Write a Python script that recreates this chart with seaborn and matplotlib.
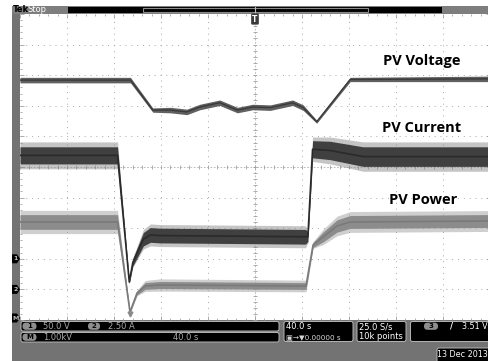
import numpy as np
import matplotlib
matplotlib.use("Agg")
import matplotlib.pyplot as plt
from matplotlib.patches import Rectangle, FancyBboxPatch, Polygon
import seaborn as sns

# ---------------- data ----------------
# time in seconds (40 s/div, 400 s record)
volt_t = [0, 94, 113, 128, 142, 153, 170, 185, 198, 213, 232, 241, 252.5, 281, 400]
volt_v = [292, 292, 243, 243, 240, 248, 255, 243, 248, 247, 255, 247, 224, 293, 294]   # V
volt_noise = [4.5, 4.5, 3.5, 4.5, 4.5, 4.5, 4.5, 4.5, 4.5, 4.5, 4.5, 4.5, 2.5, 3.5, 4.5]

cur_t = [0, 83, 93, 96, 105, 111, 119, 243, 245, 249, 264, 292, 400]
cur_a = [10.95, 10.95, 0.6, 2.2, 4.1, 4.45, 4.4, 4.3, 4.3, 11.45, 11.35, 10.85, 10.85]  # A
cur_noise = [0.7, 0.7, 0.1, 0.3, 0.55, 0.6, 0.6, 0.6, 0.4, 0.7, 0.75, 0.8, 0.8]
cur_spike = [1.1, 1.1, 0.15, 0.4, 0.8, 0.9, 0.9, 0.9, 0.5, 1.0, 1.1, 1.2, 1.2]

pow_t = [0, 83, 93.6, 99.6, 106.4, 119, 243.4, 249.4, 257.9, 269.8, 281, 400]
pow_w = [3203, 3203, 261, 882, 1111, 1144, 1111, 2451, 2712, 3072, 3203, 3235]       # W
pow_noise = [240, 240, 30, 60, 110, 115, 110, 80, 160, 200, 210, 210]
pow_spike = [380, 380, 40, 90, 180, 200, 190, 110, 250, 320, 340, 340]

labels = ["PV Voltage", "PV Current", "PV Power"]
ch_scale = [50.0, 2.5, 1000.0]     # units per division
ch_offset = [-3.0, -4.0, -5.0]     # ground marker positions (div)

# ---------------- figure ----------------
W, H = 489, 361
fig = plt.figure(figsize=(W / 100, H / 100), dpi=100)
fig.patch.set_facecolor("white")

bg = fig.add_axes([0, 0, 1, 1], zorder=0)
bg.set_xlim(0, W); bg.set_ylim(H, 0); bg.axis("off")

ax = fig.add_axes([20 / W, 1 - 320 / H, 470 / W, 306 / H], zorder=1)
ax.set_facecolor("white")
ax.set_xlim(0, 400); ax.set_ylim(-5, 5)
for s in ax.spines.values():
    s.set_visible(False)
ax.set_xticks(np.arange(0, 401, 40)); ax.set_xticks(np.arange(0, 401, 8), minor=True)
ax.set_yticks(np.arange(-5, 6, 1)); ax.set_yticks(np.arange(-5, 5.01, 0.2), minor=True)
ax.tick_params(which="both", direction="in", top=True, right=True, bottom=True, left=True,
               labelbottom=False, labelleft=False, color="#a0a0a0", width=0.6)
ax.tick_params(which="major", length=3)
ax.tick_params(which="minor", length=1.5)

grid_kw = dict(color="#a8a8a8", lw=0.7, ls=(0, (1, 5)), zorder=0)
for x in np.arange(40, 400, 40):
    if x != 200:
        ax.axvline(x, **grid_kw)
for y in np.arange(-4, 5, 1):
    if y != 0:
        ax.axhline(y, **grid_kw)
# centre cross with minor ticks
ax.axhline(0, color="#b0b0b0", lw=0.6, ls=(0, (2, 2)), zorder=0)
ax.axvline(200, color="#b0b0b0", lw=0.6, ls=(0, (2, 2)), zorder=0)
ax.plot(np.arange(0, 401, 8), np.zeros(51), ls="none", marker="|", ms=3, color="#a0a0a0", mew=0.6, zorder=0)
ax.plot(np.full(51, 200), np.arange(-5, 5.01, 0.2), ls="none", marker="_", ms=3, color="#a0a0a0", mew=0.6, zorder=0)


def to_div(vals, scale, off):
    return np.asarray(vals, dtype=float) / scale + off


# power (math channel)
p = to_div(pow_w, ch_scale[2], ch_offset[2])
pn = np.asarray(pow_noise) / ch_scale[2]; ps = np.asarray(pow_spike) / ch_scale[2]
ax.fill_between(pow_t, p - ps, p + ps, color="#a8a8a8", alpha=0.55, lw=0, zorder=2)
ax.fill_between(pow_t, p - pn, p + pn, color="#8c8c8c", lw=0, zorder=2)
sns.lineplot(x=pow_t, y=p, ax=ax, color="#7a7a7a", lw=1.2, legend=False, zorder=3)

# current
c = to_div(cur_a, ch_scale[1], ch_offset[1])
cn = np.asarray(cur_noise) / ch_scale[1]; cs = np.asarray(cur_spike) / ch_scale[1]
ax.fill_between(cur_t, c - cs, c + cs, color="#808080", alpha=0.45, lw=0, zorder=4)
ax.fill_between(cur_t, c - cn, c + cn, color="#404040", lw=0, zorder=4)
sns.lineplot(x=cur_t, y=c, ax=ax, color="#2a2a2a", lw=1.2, legend=False, zorder=5)

# voltage
v = to_div(volt_v, ch_scale[0], ch_offset[0]); vn = np.asarray(volt_noise) / ch_scale[0]
ax.fill_between(volt_t, v - vn, v + vn, color="#606060", lw=0, zorder=6)
sns.lineplot(x=volt_t, y=v, ax=ax, color="#3a3a3a", lw=1.0, legend=False, zorder=7)

ax.set_xlabel(""); ax.set_ylabel("")

lab_kw = dict(ha="center", va="center", fontsize=10.5, fontweight="bold",
              family=["Open Sans", "DejaVu Sans"], color="black", zorder=10)
ax.text(342, 3.46, labels[0], **lab_kw)
ax.text(342, 1.27, labels[1], **lab_kw)
ax.text(343, -1.08, labels[2], **lab_kw)

# ---------------- oscilloscope frame decorations ----------------
gray = "#737373"
# left bar
bg.add_patch(Rectangle((12, 6), 8, H - 6, color=gray, lw=0))
# top bar
bg.add_patch(Rectangle((12, 6), W - 12, 7.5, color="#7e7e7e", lw=0))
bg.add_patch(Rectangle((68, 6.8), 374, 6, color="black", lw=0))
bg.add_patch(Rectangle((143, 7.8), 225, 4, fill=False, ec="#8a8a8a", lw=0.8))
bg.plot([255, 255], [7, 13], color="#bbbbbb", lw=0.8)
bg.text(12.5, 9.8, "Tek", fontsize=6, fontweight="bold", color="black", va="center", ha="left")
bg.text(27, 9.8, "Stop", fontsize=6, color="white", va="center", ha="left")
# bottom info area
bg.add_patch(Rectangle((12, 320), W - 12, H - 320, color=gray, lw=0))

# channel ground markers
for yy, t in [(258.8, "1"), (289.4, "2"), (318, "M")]:
    bg.add_patch(Polygon([(12, yy - 4.5), (17, yy - 4.5), (20, yy), (17, yy + 4.5), (12, yy + 4.5)],
                         closed=True, color="black", lw=0))
    bg.text(15.5, yy, t, fontsize=4.5, color="#c0c0c0", ha="center", va="center", fontweight="bold")


def rbox(x, y, w, h, fc="black", ec="#b5b5b5"):
    bg.add_patch(FancyBboxPatch((x, y), w, h, boxstyle="round,pad=0,rounding_size=2",
                                fc=fc, ec=ec, lw=0.7))


def badge(x, y, w, t):
    bg.add_patch(FancyBboxPatch((x, y - 3.6), w, 7.2, boxstyle="round,pad=0,rounding_size=3.5",
                                fc="#8e8e8e", ec="none"))
    bg.text(x + w / 2, y, t, fontsize=5, color="black", ha="center", va="center", fontweight="bold")


small = dict(fontsize=6, va="center", ha="left")
rbox(21, 321.5, 258, 9.5)
rbox(21, 332.5, 258, 9.5)
badge(22.5, 326.2, 14, "1")
bg.text(43, 326.4, "50.0 V", color="#a8a8a8", **small)
badge(88, 326.2, 12, "2")
bg.text(108, 326.4, "2.50 A", color="#a8a8a8", **small)
badge(22.5, 337.2, 14, "M")
bg.text(43, 337.4, "1.00kV", color="#a8a8a8", **small)
bg.text(173, 337.4, "40.0 s", color="#a8a8a8", **small)

rbox(284, 321.5, 69, 20)
bg.text(286, 326.6, "40.0 s", color="white", **small)
bg.text(286, 336.6, "\u25A3\u2192\u25BC0.00000 s", color="#d8d8d8", fontsize=5.2, va="center", ha="left")

rbox(357, 321.5, 49, 20)
bg.text(359, 326.6, "25.0 S/s", color="white", **small)
bg.text(359, 336.6, "10k points", color="white", **small)

rbox(410.5, 321.5, 85, 20)
badge(424, 326.2, 14, "3")
bg.text(450, 326.4, "/", color="white", fontsize=6, fontweight="bold", va="center", ha="left")
bg.text(487.5, 326.4, "3.51 V", color="white", fontsize=5.8, va="center", ha="right")

rbox(437, 348, 60, 16)
bg.text(487.5, 354.5, "13 Dec 2013", color="white", fontsize=5.8, va="center", ha="right")

# top overlay markers
fg = fig.add_axes([0, 0, 1, 1], zorder=3)
fg.set_xlim(0, W); fg.set_ylim(H, 0); fg.axis("off"); fg.patch.set_alpha(0)
fg.text(255, 19, "T", fontsize=5.5, fontweight="bold", color="white", ha="center", va="center",
        bbox=dict(boxstyle="round,pad=0.15", fc="#3a3a3a", ec="none"))
fg.plot([130], [313.5], marker="v", ms=3.5, color="#8a8a8a", ls="none")

fig.savefig("out.png", dpi=100)
